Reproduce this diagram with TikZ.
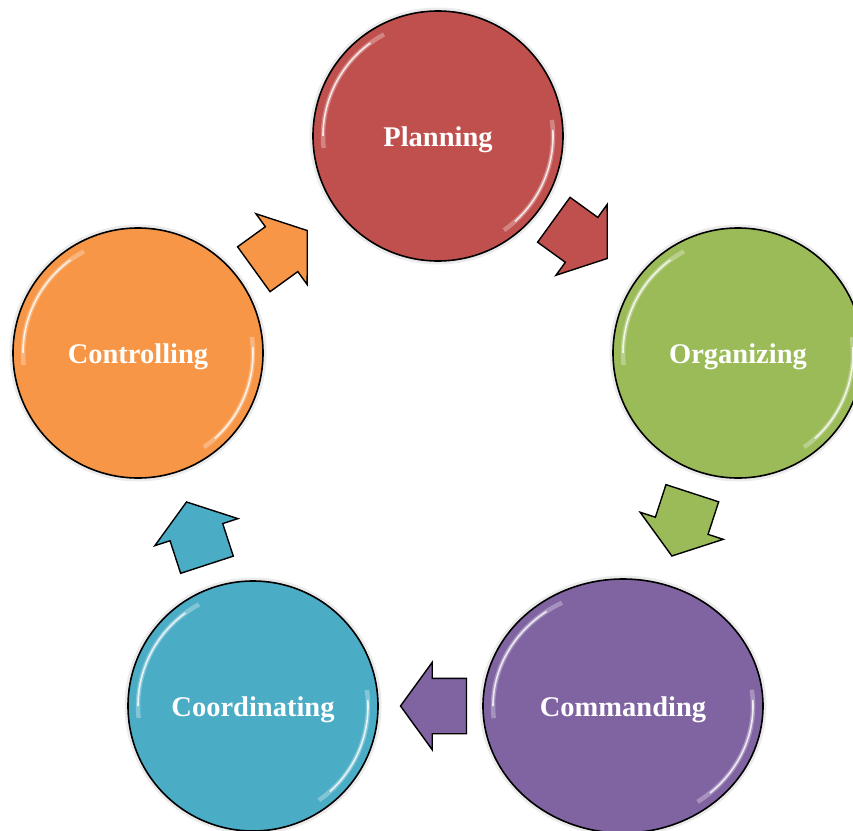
\documentclass[tikz,border=0pt]{standalone}
\usepackage{fontspec}
\setmainfont{Liberation Serif}
\usetikzlibrary{shapes.geometric,shapes.arrows,calc}
\definecolor{cplan}{HTML}{C0504D}
\definecolor{corg}{HTML}{9BBB59}
\definecolor{ccom}{HTML}{8064A2}
\definecolor{ccoo}{HTML}{4BACC6}
\definecolor{ccon}{HTML}{F79646}
\newcommand{\glossy}[3]{%
  \draw[white, opacity=0.3, line width=4.5pt]
    ($(#1.center)+(-186:{#2-10} and {#3-10})$) arc[start angle=-186, end angle=-118, x radius={#2-10}, y radius={#3-10}];
  \draw[white, opacity=0.8, line width=1.6pt]
    ($(#1.center)+(-180:{#2-10} and {#3-10})$) arc[start angle=-180, end angle=-126, x radius={#2-10}, y radius={#3-10}];
  \draw[white, opacity=0.3, line width=4.5pt]
    ($(#1.center)+(-8:{#2-10} and {#3-10})$) arc[start angle=-8, end angle=55, x radius={#2-10}, y radius={#3-10}];
  \draw[white, opacity=0.8, line width=1.6pt]
    ($(#1.center)+(-3:{#2-10} and {#3-10})$) arc[start angle=-3, end angle=48, x radius={#2-10}, y radius={#3-10}];
}
\begin{document}
\begin{tikzpicture}[x=1pt,y=-1pt,
  stage/.style={circle, draw=black, line width=1.6pt, minimum size=250pt, inner sep=0pt,
    text=white, text height=26pt, text depth=5pt,
    font=\fontsize{28.5}{34}\selectfont\bfseries},
  halo/.style={circle, fill=black, opacity=0.08, minimum size=257pt, inner sep=0pt},
  blockarrow/.style={single arrow, draw=black, line width=1.4pt, minimum height=66pt,
    minimum width=86pt, single arrow head extend=16pt, single arrow tip angle=108,
    text height=27pt, text depth=27pt, text width=0pt, inner sep=0pt,
    sloped, allow upside down}]
\useasboundingbox (0,0) rectangle (853,830);
% soft halos
\node[halo] at (438,136) {};
\node[halo] at (738,353) {};
\node[halo, ellipse, minimum width=287pt, minimum height=261pt] at (623,706) {};
\node[halo] at (253,706) {};
\node[halo] at (138,353) {};
% stages
\node[stage, fill=cplan] (plan) at (438,136) {Planning};
\node[stage, fill=corg] (org) at (738,353) {Organizing};
\node[stage, ellipse, fill=ccom, minimum width=280pt, minimum height=254pt] (com) at (623,706) {Commanding};
\node[stage, fill=ccoo] (coo) at (253,706) {Coordinating};
\node[stage, fill=ccon] (con) at (138,353) {Controlling};
\glossy{plan}{125}{125}
\glossy{org}{125}{125}
\glossy{com}{140}{127}
\glossy{coo}{125}{125}
\glossy{con}{125}{125}
% arrows
\path (plan.center) -- (org.center) node[blockarrow, fill=cplan, pos=0.448] (a1) {};
\path (org.center) -- (com.center) node[blockarrow, fill=corg, pos=0.459] (a2) {};
\path (com.center) -- (coo.center) node[blockarrow, fill=ccom, pos=0.485] (a3) {};
\path (coo.center) -- (con.center) node[blockarrow, fill=ccoo, pos=0.462] (a4) {};
\path (con.center) -- (plan.center) node[blockarrow, fill=ccon, pos=0.448] (a5) {};
\end{tikzpicture}
\end{document}
